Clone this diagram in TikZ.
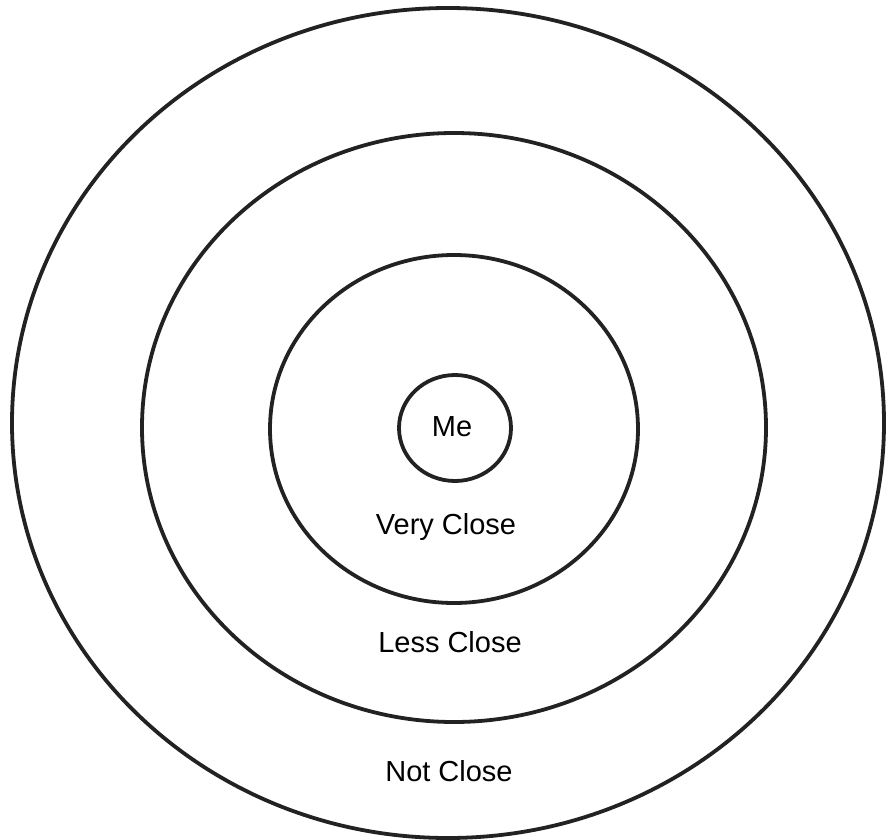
\documentclass[tikz,border=0pt]{standalone}
\usepackage{fontspec}
\setmainfont{Liberation Sans}
\usepackage{xcolor}
\definecolor{ringBlack}{HTML}{222222}
\usepackage{tikz}
\usetikzlibrary{positioning}
\tikzset{
    % Base style for the rings
    ring/.style={
        draw=ringBlack,
        line width=3.8pt,
    },
    % Label style for the zones
    zone label/.style={
        font=\fontsize{29}{34}\selectfont,
        text=black,
        inner sep=0pt,
        anchor=center,
    },
}
\begin{document}
\begin{tikzpicture}[x=1pt, y=1pt]
    \useasboundingbox (0,0) rectangle (886,-840);
    \fill[white] (0,0) rectangle (886,-840);

    % rings from outside in
    \draw [ring] (448,-423) ellipse [x radius=436, y radius=415];
    \draw [ring] (454,-427.5) ellipse [x radius=312, y radius=294.5];
    \draw [ring] (454,-429) ellipse [x radius=184, y radius=174];
    \draw [ring] (455,-428) ellipse [x radius=56, y radius=53];

    \node (me) [zone label] at (452,-427) {Me};
    \node (very_close) [zone label] at (446,-527) {Very Close};
    \node (less_close) [zone label] at (450,-642) {Less Close};
    \node (not_close) [zone label] at (449,-771) {Not Close};
\end{tikzpicture}
\end{document}
